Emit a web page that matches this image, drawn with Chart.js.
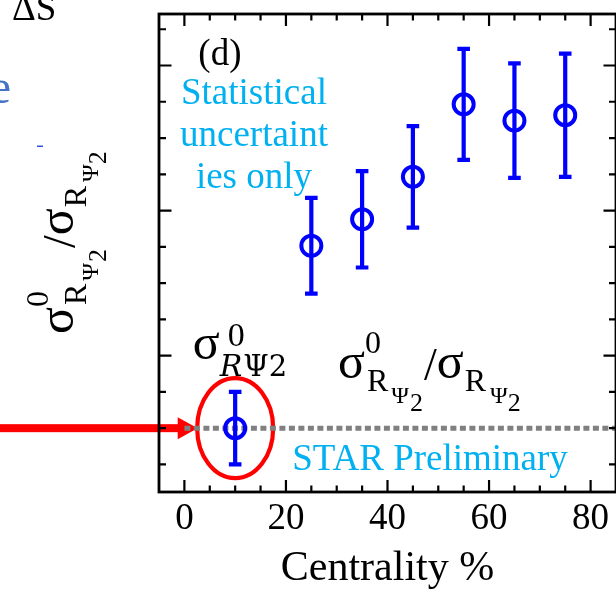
<!DOCTYPE html>
<html><head><meta charset="utf-8">
<script src="https://cdn.jsdelivr.net/npm/chart.js@4.4.1/dist/chart.umd.min.js"></script>
<style>
html,body{margin:0;padding:0;background:#fff;overflow:hidden;width:616px;height:596px}
#wrap{position:relative;width:630px;height:596px}
canvas{display:block}
</style></head><body>
<div id="wrap"><canvas id="c" width="630" height="596"></canvas></div>
<script>
// ---- data ----
const centrality = [10, 25, 35, 45, 55, 65, 75];
const ratio      = [1.000, 1.503, 1.576, 1.693, 1.893, 1.848, 1.863];
const statErr    = [0.100, 0.132, 0.133, 0.140, 0.153, 0.158, 0.170];
const refLineX   = [0, 85];
const refLineY   = [1, 1];
const xTickValues  = [0, 20, 40, 60, 80];
const xMinorTicks  = [0,5,10,15,20,25,30,35,40,45,50,55,60,65,70,75,80];
const yMinorTicks  = [0.9,1.0,1.1,1.2,1.3,1.4,1.5,1.6,1.7,1.8,1.9,2.0,2.1];
const yMajorTicks  = [1.2, 1.6, 2.0];

const SERIF = '"Liberation Serif", "Times New Roman", serif';
const LBLUE = '#00b0f0';
const BLUE = '#0000ff';

function drawFormula(ctx, parts, x0, y0) {
  let x = x0;
  ctx.textAlign = 'left';
  ctx.textBaseline = 'alphabetic';
  for (const p of parts) {
    ctx.font = (p.style || '') + ' ' + p.size + 'px ' + (p.family || SERIF);
    const xx = x + (p.dx || 0);
    ctx.fillText(p.t, xx, y0 + (p.dy || 0));
    const w = ctx.measureText(p.t).width;
    if (!p.stack) x = xx + w;
  }
}
const RATIO_FORMULA = [
  {t:'σ', size:50},
  {t:'0', size:32, dy:-25, dx:0, stack:true},
  {t:'R', size:32, dy:13, dx:2},
  {t:'Ψ', size:24, dy:25, dx:3},
  {t:'2', size:26, dy:33, dx:1},
  {t:'/', size:46, dy:2, dx:1},
  {t:'σ', size:50},
  {t:'R', size:32, dy:13, dx:1},
  {t:'Ψ', size:24, dy:25, dx:4},
  {t:'2', size:26, dy:33, dx:0}
];
const SIGMA0_FORMULA = [
  {t:'σ', size:50},
  {t:'0', size:34, dy:-13, dx:8, stack:true},
  {t:'R', size:30, dy:17, dx:0, style:'italic', family:'"DejaVu Serif", serif'},
  {t:'Ψ', size:29, dy:17, dx:1, family:'"DejaVu Serif", serif'},
  {t:'2', size:29, dy:17, family:'"DejaVu Serif", serif'}
];

const decor = {
  id: 'decor',
  beforeDatasetsDraw(chart) {
    const {ctx} = chart;
    const xs = chart.scales.x, ys = chart.scales.y;
    const cx = xs.getPixelForValue(centrality[0]);
    const cy = ys.getPixelForValue(ratio[0]);
    ctx.save();
    // red arrow pointing at the central point
    ctx.fillStyle = '#ff0000';
    const tipX = cx - 38;
    ctx.fillRect(0, cy - 4, tipX - 16, 8);
    ctx.beginPath();
    ctx.moveTo(tipX - 19.5, cy - 11);
    ctx.lineTo(tipX + 0.5, cy);
    ctx.lineTo(tipX - 19.5, cy + 11);
    ctx.closePath();
    ctx.fill();
    // red ellipse
    ctx.strokeStyle = '#ff0000';
    ctx.lineWidth = 4.2;
    ctx.beginPath();
    ctx.ellipse(cx, cy, 38, 50, 0, 0, Math.PI * 2);
    ctx.stroke();
    ctx.restore();
  },
  beforeDatasetDraw(chart, args) {
    if (args.index !== 0) return;
    const {ctx} = chart;
    const xs = chart.scales.x, ys = chart.scales.y;
    ctx.save();
    ctx.strokeStyle = BLUE;
    ctx.lineWidth = 4.2;
    ctx.lineCap = 'butt';
    centrality.forEach((c, i) => {
      const X = xs.getPixelForValue(c);
      const Y1 = ys.getPixelForValue(ratio[i] + statErr[i]);
      const Y2 = ys.getPixelForValue(ratio[i] - statErr[i]);
      ctx.beginPath();
      ctx.moveTo(X, Y1); ctx.lineTo(X, Y2);
      ctx.moveTo(X - 6.3, Y1); ctx.lineTo(X + 6.3, Y1);
      ctx.moveTo(X - 6.3, Y2); ctx.lineTo(X + 6.3, Y2);
      ctx.stroke();
    });
    ctx.restore();
  },
  afterDraw(chart) {
    const {ctx, chartArea: a} = chart;
    const xs = chart.scales.x, ys = chart.scales.y;
    const P = (x, y) => [xs.getPixelForValue(x), ys.getPixelForValue(y)];
    ctx.save();
    // frame
    ctx.strokeStyle = '#000';
    ctx.lineWidth = 2.8;
    ctx.strokeRect(a.left, a.top, a.right - a.left, a.bottom - a.top);
    // inward ticks
    ctx.lineWidth = 2.2;
    ctx.beginPath();
    xMinorTicks.forEach(v => {
      const X = xs.getPixelForValue(v);
      const len = xTickValues.includes(v) ? 12 : 6.5;
      ctx.moveTo(X, a.bottom); ctx.lineTo(X, a.bottom - len);
      ctx.moveTo(X, a.top); ctx.lineTo(X, a.top + len);
    });
    yMinorTicks.forEach(v => {
      const Y = ys.getPixelForValue(v);
      const len = yMajorTicks.some(m => Math.abs(m - v) < 1e-6) ? 12.5 : 7;
      ctx.moveTo(a.left, Y); ctx.lineTo(a.left + len, Y);
      ctx.moveTo(a.right, Y); ctx.lineTo(a.right - len, Y);
    });
    ctx.stroke();

    // in-plot annotations
    ctx.fillStyle = '#000';
    ctx.textBaseline = 'alphabetic';
    ctx.textAlign = 'center';
    ctx.font = '37px ' + SERIF;
    let p = P(7, 2.0);
    ctx.fillText('(d)', p[0], p[1]);
    ctx.fillStyle = LBLUE;
    ctx.font = '37px ' + SERIF;
    p = P(13.7, 1.895); ctx.fillText('Statistical', p[0], p[1]);
    p = P(13.7, 1.777); ctx.fillText('uncertaint', p[0], p[1]);
    p = P(13.7, 1.663); ctx.fillText('ies only', p[0], p[1]);
    ctx.textAlign = 'left';
    p = P(21.25, 0.884); ctx.fillText('STAR Preliminary', p[0], p[1]);

    ctx.fillStyle = '#000';
    p = P(1.66, 1.19); drawFormula(ctx, SIGMA0_FORMULA, p[0], p[1]);
    p = P(30.26, 1.138); drawFormula(ctx, RATIO_FORMULA, p[0], p[1]);

    // y-axis title (rotated formula)
    ctx.save();
    ctx.translate(73, 334);
    ctx.rotate(-Math.PI / 2);
    drawFormula(ctx, RATIO_FORMULA, 0, 0);
    ctx.restore();

    // fragments of the neighbouring panel at the left edge
    ctx.fillStyle = '#000';
    ctx.textAlign = 'left';
    ctx.font = '37px ' + SERIF;
    ctx.fillText('ΔS', 12, 20);
    ctx.fillStyle = '#4472c4';
    ctx.font = '48px ' + SERIF;
    ctx.textAlign = 'right';
    ctx.fillText('e', 11, 103);
    ctx.fillStyle = '#3050f0';
    ctx.fillRect(37, 145.5, 6, 1.5);
    ctx.restore();
  }
};

new Chart(document.getElementById('c').getContext('2d'), {
  type: 'line',
  data: {
    datasets: [
      {
        label: 'σ0/σ ratio',
        data: centrality.map((x, i) => ({x, y: ratio[i]})),
        showLine: false,
        pointStyle: 'circle',
        pointRadius: 10,
        pointBorderWidth: 4,
        pointBorderColor: BLUE,
        pointBackgroundColor: 'rgba(0,0,0,0)',
        borderColor: BLUE,
        order: 0
      },
      {
        label: 'reference',
        data: refLineX.map((x, i) => ({x, y: refLineY[i]})),
        borderColor: '#808080',
        borderWidth: 5,
        borderDash: [6, 3.5],
        pointRadius: 0,
        fill: false,
        order: 1
      }
    ]
  },
  options: {
    responsive: false,
    animation: false,
    devicePixelRatio: 1,
    events: [],
    layout: {padding: {left: 159, top: 9.5, right: 11.5, bottom: 0}},
    plugins: {legend: {display: false}, tooltip: {enabled: false}},
    scales: {
      x: {
        type: 'linear', min: -5, max: 85,
        grid: {display: false, drawTicks: false},
        border: {display: false},
        afterBuildTicks: s => { s.ticks = xTickValues.map(v => ({value: v})); },
        afterFit: s => { s.height = 104; },
        ticks: {font: {family: SERIF, size: 37}, color: '#000', padding: 5, maxRotation: 0, autoSkip: false},
        title: {display: true, text: 'Centrality %', font: {family: SERIF, size: 42}, color: '#000', padding: {top: 0, bottom: 2}}
      },
      y: {type: 'linear', min: 0.824, max: 2.142, display: false}
    }
  },
  plugins: [decor]
});
</script>
</body></html>
